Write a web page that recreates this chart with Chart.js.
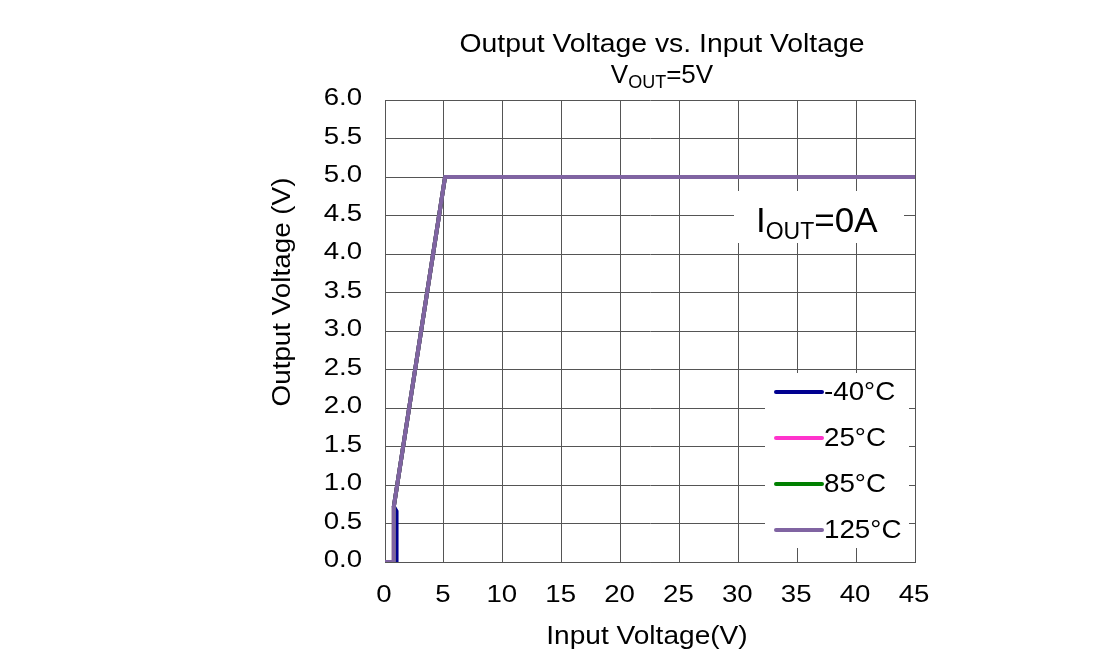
<!DOCTYPE html>
<html>
<head>
<meta charset="utf-8">
<script src="https://cdn.jsdelivr.net/npm/chart.js@4"></script>
<style>
  html, body { margin: 0; padding: 0; background: #fff; }
  #wrap { width: 1099px; height: 669px; }
</style>
</head>
<body>
<div id="wrap"><canvas id="c" width="1099" height="669"></canvas></div>
<script>
// series (input V -> output V)
const seriesNames = ["-40°C", "25°C", "85°C", "125°C"];
const seriesColors = ["#000090", "#ff33cc", "#008000", "#8064a2"];
const vinM40 = [0, 0.98, 0.98, 0.75, 5.1, 45];
const voutM40 = [0, 0, 0.66, 0.72, 5.0, 5.0];
const vin25 = [0, 0.75, 0.75, 5.1, 45];
const vout25 = [0, 0, 0.72, 5.0, 5.0];
const vin85 = [0, 0.75, 0.75, 5.1, 45];
const vout85 = [0, 0, 0.72, 5.0, 5.0];
const vin125 = [0, 0.75, 0.75, 5.1, 45];
const vout125 = [0, 0, 0.72, 5.0, 5.0];

const xs = [vinM40, vin25, vin85, vin125];
const ys = [voutM40, vout25, vout85, vout125];

const FONT = "'Liberation Sans', Arial, sans-serif";
const GRID = "#555555";

function pts(x, y) {
  return x.map((v, i) => ({ x: v, y: y[i] }));
}

// text drawn with a horizontal stretch, like the original export
function txt(ctx, s, x, y, size, align, base, sx) {
  ctx.save();
  ctx.font = size + "px " + FONT;
  ctx.textAlign = align;
  ctx.textBaseline = base;
  ctx.translate(x, y);
  ctx.scale(sx, 1);
  ctx.fillText(s, 0, 0);
  ctx.restore();
}

// main text + subscript + rest, left aligned at x (or centred)
function subText(ctx, parts, x, y, size, subSize, center) {
  ctx.font = size + "px " + FONT;
  const w0 = ctx.measureText(parts[0]).width;
  const w2 = ctx.measureText(parts[2]).width;
  ctx.font = subSize + "px " + FONT;
  const w1 = ctx.measureText(parts[1]).width;
  let sx = center ? x - (w0 + w1 + w2) / 2 : x;
  txt(ctx, parts[0], sx, y, size, "left", "alphabetic", 1);
  txt(ctx, parts[1], sx + w0, y + size * 0.2, subSize, "left", "alphabetic", 1);
  txt(ctx, parts[2], sx + w0 + w1, y, size, "left", "alphabetic", 1);
}

const decor = {
  id: "decor",
  afterDraw(chart) {
    const ctx = chart.ctx;
    const xS = chart.scales.x, yS = chart.scales.y;
    ctx.save();
    ctx.fillStyle = "#000";

    // tick labels from the scales
    yS.ticks.forEach((t, i) => {
      txt(ctx, Number(t.value).toFixed(1), 362, yS.getPixelForTick(i) - 1, 23, "right", "middle", 1.2);
    });
    xS.ticks.forEach((t, i) => {
      txt(ctx, String(t.value), xS.getPixelForTick(i) - 1, 596, 23, "center", "middle", 1.2);
    });

    // axis titles
    txt(ctx, "Input Voltage(V)", 647, 637, 26, "center", "middle", 1.08);
    ctx.save();
    ctx.translate(283, 292);
    ctx.rotate(-Math.PI / 2);
    txt(ctx, "Output Voltage (V)", 0, 0, 26, "center", "middle", 1.07);
    ctx.restore();

    // title
    txt(ctx, "Output Voltage vs. Input Voltage", 662, 52, 26, "center", "alphabetic", 1.09);
    subText(ctx, ["V", "OUT", "=5V"], 662, 83, 26, 18, true);

    // IOUT box
    ctx.fillStyle = "#fff";
    ctx.fillRect(734, 191, 170, 52);
    ctx.fillStyle = "#000";
    subText(ctx, ["I", "OUT", "=0A"], 756, 232, 35, 23, false);

    // legend box
    ctx.fillStyle = "#fff";
    ctx.fillRect(765, 373, 144, 175);
    chart.data.datasets.forEach((ds, i) => {
      const ly = 392 + i * 46;
      ctx.strokeStyle = ds.borderColor;
      ctx.lineWidth = 4;
      ctx.lineCap = "round";
      ctx.beginPath();
      ctx.moveTo(776, ly);
      ctx.lineTo(822, ly);
      ctx.stroke();
      ctx.fillStyle = "#000";
      txt(ctx, ds.label, 824, ly + 1, 25, "left", "middle", 1.11);
    });
    ctx.restore();
  }
};

new Chart(document.getElementById("c"), {
  type: "line",
  data: {
    datasets: seriesNames.map((name, i) => ({
      label: name,
      data: pts(xs[i], ys[i]),
      borderColor: seriesColors[i],
      backgroundColor: seriesColors[i],
      borderWidth: 4,
      pointRadius: 0,
      tension: 0,
      fill: false,
      order: seriesNames.length - i // 125°C drawn last, on top
    }))
  },
  options: {
    responsive: false,
    animation: false,
    layout: { padding: { left: 262, right: 184, top: 100, bottom: 0 } },
    plugins: {
      legend: { display: false },
      tooltip: { enabled: false }
    },
    scales: {
      x: {
        type: "linear",
        min: 0,
        max: 45,
        ticks: { stepSize: 5, display: false },
        grid: { color: GRID, lineWidth: 1, drawTicks: false },
        border: { color: GRID, width: 1 },
        afterFit(s) { s.height = 107; }
      },
      y: {
        min: 0,
        max: 6,
        ticks: { stepSize: 0.5, display: false },
        grid: { color: GRID, lineWidth: 1, drawTicks: false },
        border: { color: GRID, width: 1 },
        afterFit(s) { s.width = 123; }
      }
    }
  },
  plugins: [decor]
});
</script>
</body>
</html>
